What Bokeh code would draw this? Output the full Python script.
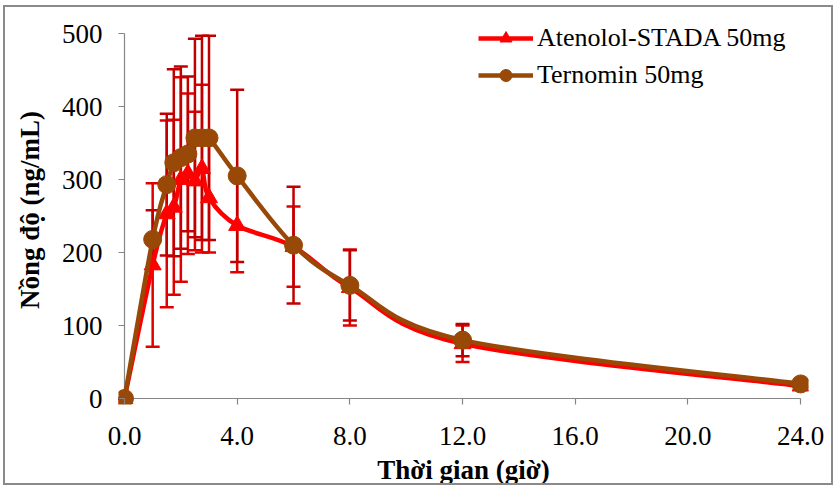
from bokeh.plotting import figure
from bokeh.models import (ColumnDataSource, Whisker, TeeHead, FixedTicker,
                          NumeralTickFormatter, Legend, LegendItem, Range1d)
from bokeh.embed import file_html
from bokeh.resources import INLINE

# ---- data ----
time_h = [0, 1, 1.5, 1.75, 2, 2.25, 2.5, 2.75, 3, 4, 6, 8, 12, 24]
atenolol_mean = [0, 183, 253, 262, 300, 308, 298, 315, 275, 237, 208, 152, 75, 17]
atenolol_sd = [0, 112, 128, 120, 140, 110, 95, 115, 75, 64, 55, 52, 25, 4]
ternomin_mean = [0, 218, 293, 323, 330, 335, 357, 357, 357, 305, 210, 155, 80, 20]
ternomin_sd = [0, 40, 97, 128, 125, 106, 136, 140, 140, 118, 80, 48, 22, 4]
x_ticks = [0, 4, 8, 12, 16, 20, 24]
y_ticks = [0, 100, 200, 300, 400, 500]
series_names = ["Atenolol-STADA 50mg", "Ternomin 50mg"]

RED = "#FF0000"
BROWN = "#984807"
ERR_A = "#E00000"
ERR_T = "#C00000"
AXIS = "#868686"
FONT = "Liberation Serif"


def smooth_segments(xs, ys):
    """Bezier control points (Catmull-Rom style, like Excel's smoothed line)."""
    n = len(xs)
    d = dict(x0=[], y0=[], x1=[], y1=[], cx0=[], cy0=[], cx1=[], cy1=[])
    for i in range(n - 1):
        pm = i - 1 if i > 0 else i
        pp = i + 2 if i + 2 < n else i + 1
        d["x0"].append(xs[i]); d["y0"].append(ys[i])
        d["x1"].append(xs[i + 1]); d["y1"].append(ys[i + 1])
        d["cx0"].append(xs[i] + (xs[i + 1] - xs[pm]) / 6.0)
        d["cy0"].append(ys[i] + (ys[i + 1] - ys[pm]) / 6.0)
        d["cx1"].append(xs[i + 1] - (xs[pp] - xs[i]) / 6.0)
        d["cy1"].append(ys[i + 1] - (ys[pp] - ys[i]) / 6.0)
    return ColumnDataSource(d)


p = figure(width=830, height=480,
           x_range=Range1d(-0.213, 24.28), y_range=Range1d(-8.2, 524.7),
           output_backend="svg", toolbar_location=None,
           min_border_left=113, min_border_right=27,
           min_border_top=8, min_border_bottom=83)
p.styles = {"border": "2px solid #8a8a8a"}
p.margin = (5, 0, 0, 3)
p.outline_line_color = None
p.grid.visible = False
p.background_fill_color = "white"
p.border_fill_color = "white"

# axis lines (x from first to last tick, y from 0 to top tick)
p.segment(x0=[x_ticks[0]], y0=[y_ticks[0]], x1=[x_ticks[-1]], y1=[y_ticks[0]],
          line_color=AXIS, line_width=1.2)
p.segment(x0=[x_ticks[0]], y0=[y_ticks[0]], x1=[x_ticks[0]], y1=[y_ticks[-1]],
          line_color=AXIS, line_width=1.2)

# error bars
for mean, sd, col in [(atenolol_mean, atenolol_sd, ERR_A), (ternomin_mean, ternomin_sd, ERR_T)]:
    src = ColumnDataSource(dict(base=time_h,
                                upper=[m + s for m, s in zip(mean, sd)],
                                lower=[m - s for m, s in zip(mean, sd)]))
    w = Whisker(base="base", upper="upper", lower="lower", source=src,
                dimension="height", line_color=col, line_width=2.5, level="underlay",
                upper_head=TeeHead(size=14, line_color=col, line_width=2.5),
                lower_head=TeeHead(size=14, line_color=col, line_width=2.5))
    p.add_layout(w)

items = []
for name, mean, col, marker, size in [(series_names[0], atenolol_mean, RED, "triangle", 17),
                                      (series_names[1], ternomin_mean, BROWN, "circle", 18)]:
    r_line = p.bezier(x0="x0", y0="y0", x1="x1", y1="y1", cx0="cx0", cy0="cy0",
                      cx1="cx1", cy1="cy1", source=smooth_segments(time_h, mean),
                      line_color=col, line_width=4.5)
    r_pts = p.scatter(time_h, mean, marker=marker, size=size,
                      fill_color=col, line_color=col)
    items.append(LegendItem(label=name, renderers=[r_line, r_pts]))

legend = Legend(items=items, location=(360, 314), padding=0, margin=0,
                glyph_width=55, glyph_height=30, label_height=30, spacing=7,
                label_standoff=4, border_line_color=None, background_fill_alpha=0,
                label_text_font=FONT, label_text_font_size="26px",
                label_text_color="black")
p.add_layout(legend)

# axes
for ax in (p.xaxis[0], p.yaxis[0]):
    ax.axis_line_color = None
    ax.major_tick_line_color = AXIS
    ax.major_tick_line_width = 1.2
    ax.major_tick_in = 6
    ax.major_tick_out = 0
    ax.minor_tick_line_color = None
    ax.major_label_text_font = FONT
    ax.major_label_text_font_size = "27px"
    ax.major_label_text_color = "black"
    ax.axis_label_text_font = FONT
    ax.axis_label_text_font_size = "27px"
    ax.axis_label_text_font_style = "bold"
    ax.axis_label_text_color = "black"

p.xaxis.ticker = FixedTicker(ticks=x_ticks)
p.xaxis.formatter = NumeralTickFormatter(format="0.0")
p.xaxis.major_label_standoff = 22
p.xaxis.axis_label = "Thời gian (giờ)"
p.xaxis.axis_label_standoff = 7

p.yaxis.ticker = FixedTicker(ticks=y_ticks)
p.yaxis.major_label_standoff = 16
p.yaxis.axis_label = "Nồng độ (ng/mL)"
p.yaxis.axis_label_standoff = 14

open("out.html", "w").write(file_html(p, INLINE))
